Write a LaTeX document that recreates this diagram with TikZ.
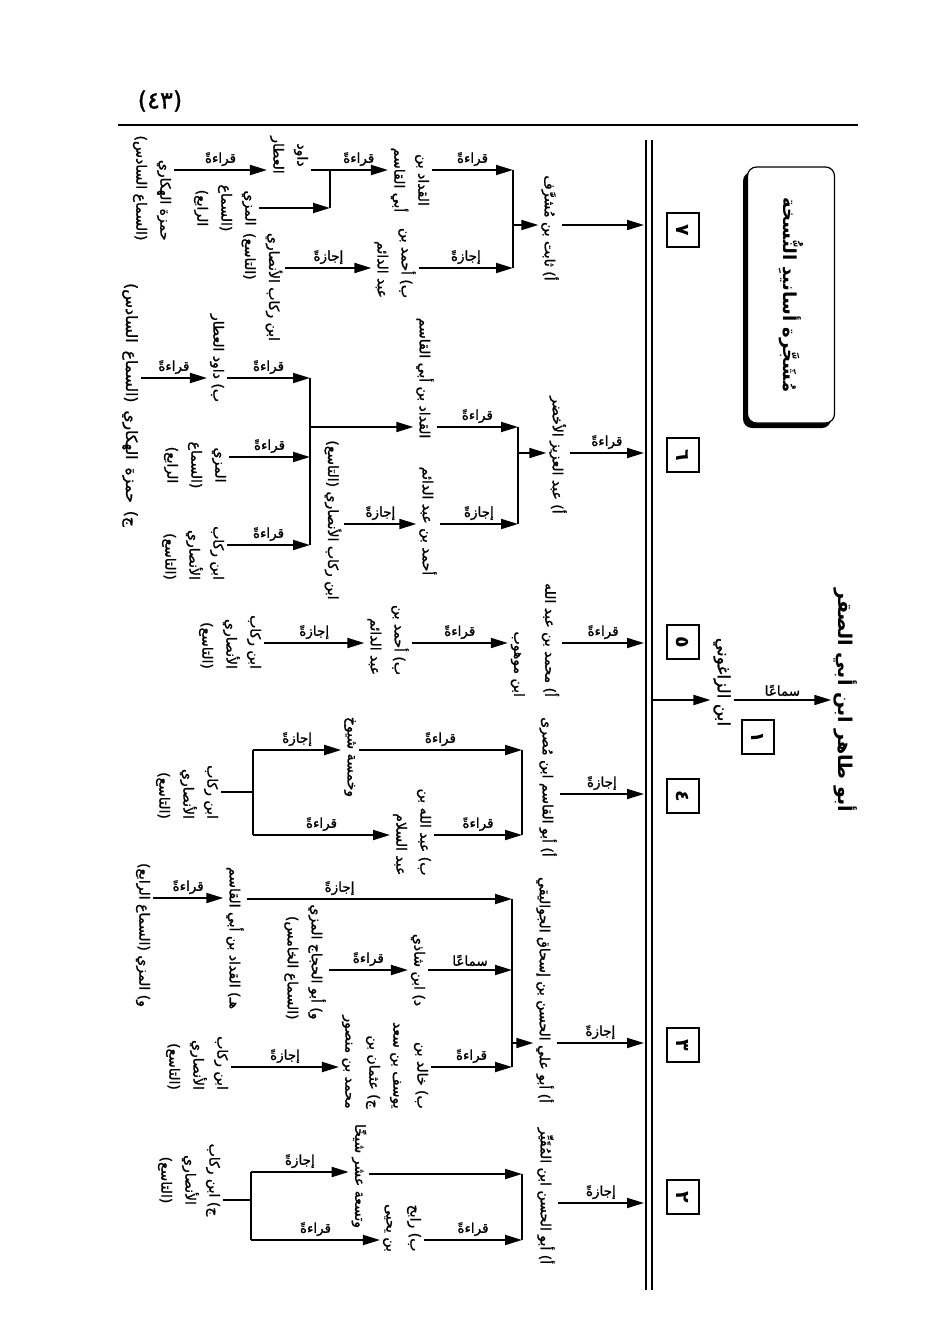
\documentclass[tikz,border=0pt]{standalone}
\usepackage{fontspec}
\newfontfamily\arabicfont[Script=Arabic]{DejaVu Sans}
\newfontfamily\arabicfontb[Script=Arabic, FakeBold=1.2]{DejaVu Sans}
\TeXXeTstate=1
\usetikzlibrary{arrows.meta}
\newcommand{\AR}[1]{\beginR #1\endR}
\tikzset{
  nm/.style={font=\arabicfontb\fontsize{14}{24}\selectfont, rotate=-90, inner sep=0pt, outer sep=3pt, align=center},
  nmr/.style={nm, align=right},
  nml/.style={nm, align=left},
  lb/.style={font=\arabicfontb\fontsize{13.5}{15}\selectfont, inner sep=0pt},
  ar/.style={line width=1.9pt, -{Triangle[length=17pt,width=10pt]}},
  ln/.style={line width=1.9pt},
  numbox/.style={draw, line width=1.6pt, minimum width=34pt, minimum height=32pt, inner sep=0pt,
     font=\arabicfont\bfseries\fontsize{19}{19}\selectfont, rotate=-90},
}
\begin{document}
\begin{tikzpicture}[x=1pt,y=-1pt]
\useasboundingbox (0,0) rectangle (948,1330);
\fill[white] (0,0) rectangle (948,1330);

% header
\node[font=\arabicfontb\fontsize{24}{26}\selectfont, inner sep=0pt] (pg) at (160,101) {(٤٣)};
\coordinate (rl) at (118,125); \coordinate (rr) at (858,125);
\draw[line width=2.6pt] (rl) -- (rr);

% double line
\coordinate (dlt) at (646,140); \coordinate (dlb) at (646,1290);
\coordinate (drt) at (652,140); \coordinate (drb) at (652,1290);
\draw[line width=2pt] (dlt) -- (dlb);
\draw[line width=2pt] (drt) -- (drb);
\coordinate (dl) at (644,0);
\coordinate (dr) at (653,0);

% title box with shadow
\fill[black, rounded corners=9pt] (743,172) rectangle (831,428);
\node[draw=black, fill=white, line width=1.2pt, rounded corners=9pt, minimum width=256pt, minimum height=87pt, rotate=-90,
      font=\arabicfont\bfseries\fontsize{18}{20}\selectfont] (tbox) at (791,295) {\AR{مُشَجَّرة أسانيدِ النُّسخة}};

% top of tree
\node[nm, font=\arabicfont\bfseries\fontsize{19}{22}\selectfont] (top) at (846,700) {\AR{أبو طاهر ابن أبي الصقر}};
\node[nm, font=\arabicfontb\fontsize{17}{22}\selectfont] (n1) at (722,682) {\AR{ابن الزاغوني}};
\node[numbox] (k1) at (758,737) {١};
\draw[ar] (dr |- 0,700) -- (n1.south |- 0,700);
\draw[ar] (n1.north |- 0,700) -- (top.south |- 0,700) node[lb, midway, above=3pt] {\AR{سماعًا}};

% number boxes
\node[numbox] (k7) at (683,230) {٧};
\node[numbox] (k6) at (683,455) {٦};
\node[numbox] (k5) at (683,642) {٥};
\node[numbox] (k4) at (683,796) {٤};
\node[numbox] (k3) at (683,1045) {٣};
\node[numbox] (k2) at (683,1197) {٢};

% ===== Branch 7 =====
\node[nm] (n7a) at (550,228) {\AR{أ) ثابت بن مُشرَّف}};
\node[nm] (n7b) at (410,180) {\AR{القداد بن}\\\AR{أبي القاسم}};
\node[nmr] (n7c) at (395,263) {\AR{ب) أحمد بن}\\\AR{عبد الدائم}};
\node[nm] (n7d) at (289,155) {\AR{داود}\\\AR{العطار}};
\node[nmr] (n7e) at (152,188) {\AR{حمزة الهكاري}\\\AR{(السماع السادس)}};
\node[nm] (n7f) at (225,208) {\AR{المزي}\\\AR{(السماع}\\\AR{الرابع)}};
\node[nml] (n7g) at (262,287) {\AR{ابن ركاب الأنصاري}\\\AR{(التاسع)}};
\coordinate (b7t) at (513,170); \coordinate (b7b) at (513,268);
\coordinate (c7t) at (330,170); \coordinate (c7b) at (330,208);
\draw[ar] (n7a.north |- 0,225) -- (dl |- 0,225);
\draw[ln] (b7t) -- (b7b);
\draw[ar] (b7t |- 0,225) -- (n7a.south |- 0,225);
\draw[ar] (n7b.north |- b7t) -- (b7t) node[lb, midway, above=3pt] {\AR{قراءةً}};
\draw[ar] (n7c.north |- b7b) -- (b7b) node[lb, midway, above=3pt] {\AR{إجازةً}};
\draw[ln] (c7t) -- (c7b);
\draw[ar] (n7d.north |- c7t) -- (n7b.south |- c7t) node[lb, pos=0.62, above=3pt] {\AR{قراءةً}};
\draw[ar] (n7f.north |- c7b) -- (c7b);
\draw[ar] (n7e.north |- 0,170) -- (n7d.south |- 0,170) node[lb, midway, above=3pt] {\AR{قراءةً}};
\draw[ar] (n7g.north |- 0,268) -- (n7c.south |- 0,268) node[lb, midway, above=3pt] {\AR{إجازةً}};

% ===== Branch 6 =====
\node[nm] (n6a) at (558,455) {\AR{أ) عبد العزيز الأخضر}};
\node[nm] (n6b) at (425,378) {\AR{القداد بن أبي القاسم}};
\node[nm] (n6c) at (428,521) {\AR{أحمد بن عبد الدائم}};
\node[nm] (n6d) at (333,520) {\AR{ابن ركاب الأنصاري (التاسع)}};
\node[nm] (n6e) at (217,358) {\AR{ب) داود العطار}};
\node[nm, font=\arabicfontb\fontsize{15.5}{24}\selectfont] (n6f) at (130,405) {\AR{ج)\hspace{8pt}حمزة\hspace{8pt}الهكاري\hspace{8pt}(السماع\hspace{8pt}السادس)}};
\node[nm] (n6g) at (195,465) {\AR{المزي}\\\AR{(السماع}\\\AR{الرابع)}};
\node[nmr] (n6h) at (193,553) {\AR{ابن ركاب}\\\AR{الأنصاري}\\\AR{(التاسع)}};
\coordinate (b6t) at (518,427); \coordinate (b6b) at (518,524);
\coordinate (c6t) at (310,378); \coordinate (c6m) at (310,457); \coordinate (c6b) at (310,545);
\draw[ar] (n6a.north |- 0,453) -- (dl |- 0,453) node[lb, midway, above=3pt] {\AR{قراءةً}};
\draw[ln] (b6t) -- (b6b);
\draw[ar] (b6t |- 0,453) -- (n6a.south |- 0,453);
\draw[ar] (n6b.north |- b6t) -- (b6t) node[lb, midway, above=3pt] {\AR{قراءةً}};
\draw[ar] (n6c.north |- b6b) -- (b6b) node[lb, midway, above=3pt] {\AR{إجازةً}};
\draw[ar] (n6d.north |- b6b) -- (n6c.south |- b6b) node[lb, midway, above=3pt] {\AR{إجازةً}};
\draw[ln] (c6t) -- (c6b);
\draw[ar] (c6t |- 0,427) -- (n6b.south |- 0,427);
\draw[ar] (n6e.north |- c6t) -- (c6t) node[lb, midway, above=3pt] {\AR{قراءةً}};
\draw[ar] (n6g.north |- c6m) -- (c6m) node[lb, midway, above=3pt] {\AR{قراءةً}};
\draw[ar] (n6h.north |- c6b) -- (c6b) node[lb, midway, above=3pt] {\AR{قراءةً}};
\draw[ar] (n6f.north |- c6t) -- (n6e.south |- c6t) node[lb, midway, above=3pt] {\AR{قراءةً}};

% ===== Branch 5 =====
\node[nmr, font=\arabicfontb\fontsize{14}{31}\selectfont] (n5a) at (535,640) {\AR{أ) محمد بن عبد الله}\\\AR{ابن موهوب}};
\node[nmr] (n5b) at (388,640) {\AR{ب) أحمد بن}\\\AR{عبد الدائم}};
\node[nmr] (n5c) at (230,642) {\AR{ابن ركاب}\\\AR{الأنصاري}\\\AR{(التاسع)}};
\draw[ar] (n5a.north |- 0,643) -- (dl |- 0,643) node[lb, midway, above=3pt] {\AR{قراءةً}};
\draw[ar] (n5b.north |- 0,643) -- (n5a.south |- 0,643) node[lb, midway, above=3pt] {\AR{قراءةً}};
\draw[ar] (n5c.north |- 0,643) -- (n5b.south |- 0,643) node[lb, midway, above=3pt] {\AR{إجازةً}};

% ===== Branch 4 =====
\node[nm] (n4a) at (548,787) {\AR{أ) أبو القاسم ابن مُصرى}};
\node[nm] (n4b) at (350,757) {\AR{وخمسة شيوخ}};
\node[nmr] (n4c) at (412,832) {\AR{ب) عبد الله بن}\\\AR{عبد السلام}};
\node[nmr] (n4d) at (187,792) {\AR{ابن ركاب}\\\AR{الأنصاري}\\\AR{(التاسع)}};
\coordinate (b4t) at (522,750); \coordinate (b4b) at (522,835);
\coordinate (c4t) at (253,750); \coordinate (c4m) at (253,792); \coordinate (c4b) at (253,835);
\draw[ar] (n4a.north |- 0,794) -- (dl |- 0,794) node[lb, midway, above=3pt] {\AR{إجازةً}};
\draw[ln] (b4t) -- (b4b);
\draw[ar] (n4b.north |- b4t) -- (b4t) node[lb, midway, above=3pt] {\AR{قراءةً}};
\draw[ar] (n4c.north |- b4b) -- (b4b) node[lb, midway, above=3pt] {\AR{قراءةً}};
\draw[ln] (c4t) -- (c4b);
\draw[ln] (n4d.north |- c4m) -- (c4m);
\draw[ar] (c4t) -- (n4b.south |- c4t) node[lb, midway, above=3pt] {\AR{إجازةً}};
\draw[ar] (c4b) -- (n4c.south |- c4b) node[lb, midway, above=3pt] {\AR{قراءةً}};

% ===== Branch 3 =====
\node[nm] (n3a) at (545,990) {\AR{أ) أبو علي الحسن بن إسحاق الجواليقي}};
\node[nm] (n3b) at (235,938) {\AR{هـ) القداد بن أبي القاسم}};
\node[nm] (n3c) at (418,970) {\AR{د) ابن شاذي}};
\node[nmr] (n3d) at (385,1062) {\AR{ب) خالد بن}\\\AR{يوسف بن سعد}\\\AR{ج) عثمان بن}\\\AR{محمد بن منصور}};
\node[nmr] (n3e) at (305,962) {\AR{و) أبو الحجاج المزي}\\\AR{(السماع الخامس)}};
\node[nm] (n3f) at (143,935) {\AR{و) المزي (السماع الرابع)}};
\node[nmr] (n3g) at (197,1063) {\AR{ابن ركاب}\\\AR{الأنصاري}\\\AR{(التاسع)}};
\coordinate (b3t) at (512,899); \coordinate (b3m) at (512,970); \coordinate (b3b) at (512,1067);
\draw[ar] (n3a.north |- 0,1043) -- (dl |- 0,1043) node[lb, midway, above=3pt] {\AR{إجازةً}};
\draw[ln] (b3t) -- (b3b);
\draw[ar] (b3t |- 0,1043) -- (n3a.south |- 0,1043);
\draw[ar] (n3b.north |- b3t) -- (b3t) node[lb, pos=0.35, above=3pt] {\AR{إجازةً}};
\draw[ar] (n3c.north |- b3m) -- (b3m) node[lb, midway, above=3pt] {\AR{سماعًا}};
\draw[ar] (n3d.north |- b3b) -- (b3b) node[lb, midway, above=3pt] {\AR{قراءةً}};
\draw[ar] (n3e.north |- b3m) -- (n3c.south |- b3m) node[lb, midway, above=3pt] {\AR{قراءةً}};
\draw[ar] (n3f.north |- 0,898) -- (n3b.south |- 0,898) node[lb, midway, above=3pt] {\AR{قراءةً}};
\draw[ar] (n3g.north |- b3b) -- (n3d.south |- b3b) node[lb, midway, above=3pt] {\AR{إجازةً}};

% ===== Branch 2 =====
\node[nm] (n2a) at (546,1196) {\AR{أ) أبو الحسن ابن المُقَيِّر}};
\node[nm] (n2b) at (359,1176) {\AR{وتسعة عشر شيخًا}};
\node[nm] (n2c) at (402,1228) {\AR{ب) رابح}\\\AR{بن يحيى}};
\node[nm] (n2d) at (189,1180) {\AR{ج) ابن ركاب}\\\AR{الأنصاري}\\\AR{(التاسع)}};
\coordinate (b2t) at (522,1174); \coordinate (b2b) at (522,1240);
\coordinate (c2t) at (251,1172); \coordinate (c2m) at (251,1200); \coordinate (c2b) at (251,1240);
\draw[ar] (n2a.north |- 0,1203) -- (dl |- 0,1203) node[lb, midway, above=3pt] {\AR{إجازةً}};
\draw[ln] (b2t) -- (b2b);
\draw[ar] (n2b.north |- b2t) -- (b2t);
\draw[ar] (n2c.north |- b2b) -- (b2b) node[lb, midway, above=3pt] {\AR{قراءةً}};
\draw[ln] (c2t) -- (c2b);
\draw[ln] (n2d.north |- c2m) -- (c2m);
\draw[ar] (c2t) -- (n2b.south |- c2t) node[lb, midway, above=3pt] {\AR{إجازةً}};
\draw[ar] (c2b) -- (n2c.south |- c2b) node[lb, midway, above=3pt] {\AR{قراءةً}};
\end{tikzpicture}
\end{document}
